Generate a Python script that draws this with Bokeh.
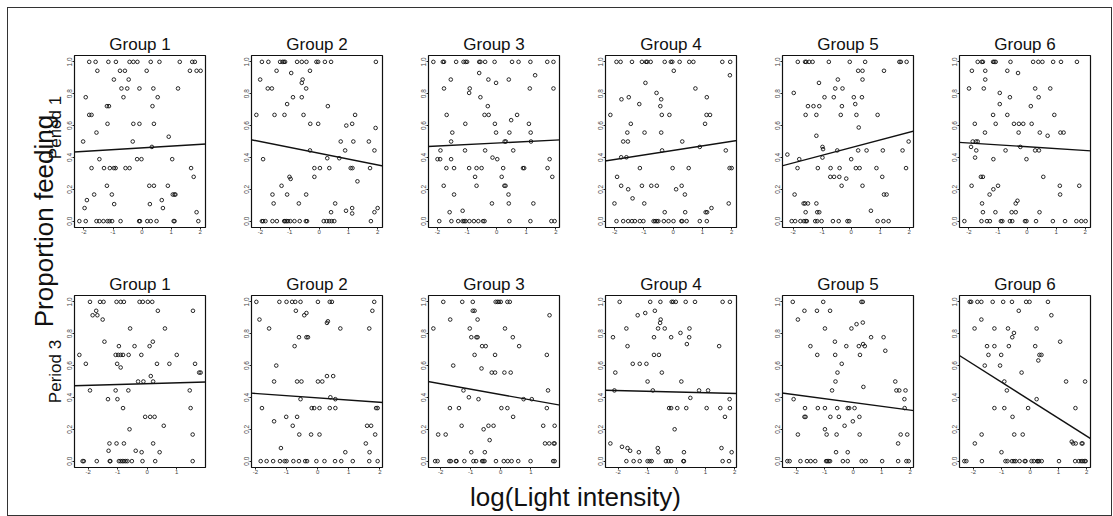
import math
from bokeh.plotting import figure
from bokeh.layouts import row, column
from bokeh.models import ColumnDataSource, Range1d, FixedTicker, PrintfTickFormatter, Slope, Label
from bokeh.embed import file_html
from bokeh.resources import INLINE

FONT = "Liberation Sans"

GROUPS = ["Group 1", "Group 2", "Group 3", "Group 4", "Group 5", "Group 6"]
PERIODS = ["Period 1", "Period 3"]
Y_LABEL = "Proportion feeding"
X_LABEL = "log(Light intensity)"
X_TICKS = [-2, -1, 0, 1, 2]
Y_TICKS = [0.0, 0.2, 0.4, 0.6, 0.8, 1.0]

# (log light intensity, proportion feeding)
P1_G1 = [(-1.82,1),(-1.60,1),(-1.16,1),(-0.90,1),(-0.43,1),(-0.30,1),(-0.16,1),(0.30,1),(0.60,1),(1.30,1),(1.73,1),(1.82,1),
         (-1.54,0.944),(-0.76,0.944),(-0.59,0.944),(0.16,0.944),(1.65,0.944),(1.88,0.944),(2.02,0.944),
         (-0.97,0.889),(-0.46,0.889),(-0.71,0.833),(-0.51,0.833),(-0.09,0.833),(0.39,0.833),(1.24,0.833),
         (-1.94,0.778),(-0.64,0.778),(0.54,0.778),(-1.21,0.722),(-1.14,0.722),(0.36,0.722),
         (-1.82,0.667),(-1.74,0.667),(-1.19,0.611),(-0.30,0.611),(-0.09,0.611),(0.41,0.611),
         (-1.57,0.556),(0.92,0.53),(-2.03,0.5),(-0.32,0.5),(0.34,0.466),
         (-1.47,0.389),(-0.17,0.389),(-0.02,0.389),(1.04,0.389),
         (-1.74,0.333),(-1.31,0.333),(-1.11,0.333),(-0.97,0.333),(-0.91,0.333),(-0.57,0.333),(-0.43,0.333),(1.69,0.333),
         (1.78,0.278),(-1.21,0.222),(0.25,0.222),(0.41,0.222),(0.89,0.222),
         (-1.65,0.167),(-1.04,0.167),(1.06,0.167),(1.12,0.167),(1.15,0.167),
         (-1.90,0.132),(0.68,0.132),(-0.96,0.107),(0.27,0.107),(-1.98,0.082),(0.72,0.082),(1.88,0.056),
         (-2.16,0),(-1.94,0),(-1.57,0),(-1.47,0),(-1.33,0),(-1.19,0),(-1.12,0),(-1.03,0),(-0.74,0),(-0.10,0),
         (-0.07,0),(0.18,0),(0.30,0),(0.50,0),(1.09,0),(1.12,0),(1.94,0)]
P1_G2 = [(-1.95,1),(-1.73,1),(-1.33,1),(-1.25,1),(-1.20,1),(-1.16,1),(-0.75,1),(-0.59,1),(-0.43,1),(-0.09,1),(-0.03,1),(0.20,1),(0.41,1),(1.94,1),
         (-1.45,0.944),(-0.31,0.944),(-0.95,0.93),(-2.01,0.889),(-0.56,0.889),(-0.59,0.868),
         (-1.75,0.833),(-1.61,0.833),(-0.44,0.833),(-0.89,0.778),(-0.59,0.778),(-1.09,0.735),(0.30,0.722),
         (-2.14,0.667),(-1.52,0.667),(-1.18,0.667),(-0.53,0.667),(1.23,0.667),
         (-0.30,0.611),(-0.03,0.611),(1.13,0.611),(0.93,0.6),(1.93,0.585),
         (0.74,0.5),(1.17,0.5),(1.70,0.5),(-0.31,0.444),(0.89,0.444),(1.89,0.444),
         (0.28,0.395),(0.69,0.395),(-1.91,0.389),
         (-0.16,0.333),(0.03,0.333),(0.35,0.333),(1.08,0.333),(1.14,0.333),(1.74,0.333),
         (-0.16,0.278),(-1.01,0.278),(-0.97,0.265),(1.31,0.25),(-1.28,0.222),
         (-1.59,0.167),(-1.09,0.167),(-0.44,0.167),(-1.55,0.111),(-0.69,0.111),(0.55,0.111),
         (0.92,0.065),(0.41,0.056),(1.89,0.056),(1.13,0.082),(2.0,0.082),(1.13,0.048),
         (-1.95,0),(-1.91,0),(-1.83,0),(-1.59,0),(-1.44,0),(-1.19,0),(-1.16,0),(-1.11,0),(-1.06,0),(-0.98,0),
         (-0.84,0),(-0.66,0),(-0.45,0),(-0.41,0),(0.16,0),(0.26,0),(0.35,0),(0.43,0),(0.52,0),(1.77,0)]
P1_G3 = [(-2.14,1),(-1.82,1),(-1.78,1),(-1.37,1),(-1.12,1),(-1.05,1),(-1.0,1),(-0.59,1),(-0.55,1),(-0.39,1),(-0.07,1),(0.52,1),(0.74,1),(1.14,1),(1.71,1),(1.92,1),
         (-0.59,0.93),(1.30,0.916),(-1.55,0.889),(-0.28,0.889),(0.41,0.889),(-0.02,0.868),
         (-1.78,0.833),(-0.91,0.833),(1.12,0.833),(1.92,0.833),(-0.93,0.805),(-0.55,0.778),(-0.30,0.722),
         (-1.69,0.667),(-0.41,0.667),(-0.27,0.667),(0.69,0.667),(0.49,0.634),
         (-1.06,0.611),(-0.06,0.611),(1.09,0.611),(-1.50,0.556),(-0.02,0.556),(0.43,0.556),(1.15,0.556),
         (-1.54,0.5),(0.27,0.5),(0.31,0.5),(1.16,0.5),(-1.90,0.444),(-1.07,0.444),(-0.39,0.444),(0.56,0.444),
         (-0.14,0.399),(-2.0,0.389),(-1.91,0.389),(-1.54,0.389),(0.02,0.389),(1.79,0.389),
         (-1.70,0.333),(-1.44,0.333),(-0.93,0.333),(-0.68,0.333),(-0.51,0.333),(0.22,0.333),(0.89,0.333),(0.93,0.333),(1.72,0.333),
         (-0.73,0.278),(0.17,0.278),(1.88,0.278),(-1.79,0.222),(-0.68,0.222),(0.26,0.222),(0.30,0.222),
         (-1.44,0.167),(0.40,0.167),(-0.16,0.111),(0.41,0.111),(1.24,0.111),(-1.15,0.065),(-1.59,0.056),
         (-1.94,0),(-1.53,0),(-1.30,0),(-1.15,0),(-1.10,0),(-1.05,0),(-0.92,0),(-0.77,0),(-0.62,0),(-0.46,0),
         (-0.41,0),(0.43,0),(1.14,0),(1.85,0),(1.96,0)]
P1_G4 = [(-1.94,1),(-1.80,1),(-1.41,1),(-1.07,1),(-0.93,1),(-0.89,1),(-0.77,1),(-0.29,1),(-0.08,1),(-0.03,1),(0.22,1),(0.55,1),(0.69,1),(1.68,1),(1.95,1),
         (0.02,0.944),(1.94,0.916),(-0.95,0.868),(0.76,0.833),(-0.57,0.805),(-1.52,0.778),(1.15,0.778),
         (-1.77,0.765),(-0.41,0.765),(-1.16,0.735),(-0.44,0.722),
         (-2.15,0.667),(-0.39,0.667),(-0.13,0.667),(1.14,0.667),(1.26,0.667),(-1.45,0.611),(1.09,0.611),
         (-1.57,0.556),(-0.98,0.556),(-0.41,0.556),(-1.71,0.5),(-1.55,0.5),(0.31,0.5),(0.91,0.466),
         (-0.38,0.444),(1.80,0.444),(-1.78,0.401),(-1.60,0.401),
         (-1.14,0.333),(-0.02,0.333),(0.53,0.333),(1.93,0.333),(2.0,0.333),(-1.92,0.278),
         (-1.78,0.222),(-1.07,0.222),(-0.75,0.222),(-0.56,0.222),(0.29,0.222),(-1.54,0.2),(0.10,0.2),
         (0.40,0.167),(-1.39,0.143),(-2.01,0.111),(-0.99,0.111),(1.90,0.111),(1.31,0.082),
         (-0.29,0.056),(0.41,0.056),(1.11,0.056),(1.16,0.056),
         (-1.94,0),(-1.71,0),(-1.54,0),(-1.41,0),(-1.31,0),(-1.14,0),(-1.02,0),(-0.67,0),(-0.62,0),(-0.56,0),
         (-0.51,0),(-0.32,0),(-0.16,0),(0.01,0),(0.28,0),(0.31,0),(0.46,0),(0.91,0),(1.15,0)]
P1_G5 = [(-1.84,1),(-1.59,1),(-1.55,1),(-1.45,1),(-1.33,1),(-0.77,1),(-0.05,1),(0.48,1),(1.66,1),(1.71,1),(1.91,1),
         (0.24,0.944),(0.39,0.944),(1.13,0.944),(-0.46,0.889),(0.39,0.889),(-1.11,0.868),
         (-0.55,0.833),(-0.30,0.833),(-1.98,0.805),(-0.92,0.778),(-0.60,0.778),(0.09,0.778),(0.37,0.778),
         (0.14,0.735),(-1.49,0.722),(-1.30,0.722),(-1.10,0.722),(-0.32,0.722),
         (-1.57,0.667),(-1.20,0.667),(-0.36,0.667),(0.18,0.667),(0.91,0.667),(0.26,0.588),(-1.20,0.536),
         (1.98,0.5),(-0.99,0.466),(-0.97,0.452),(-0.48,0.444),(0.24,0.444),(0.53,0.444),(1.09,0.444),(1.77,0.444),
         (-2.20,0.418),(-0.99,0.399),(-1.79,0.389),(0.0,0.389),
         (-1.85,0.333),(-1.15,0.333),(-0.71,0.333),(-0.40,0.333),(0.16,0.333),(0.29,0.333),(0.87,0.333),(1.89,0.333),
         (-0.72,0.278),(-0.59,0.278),(-0.41,0.278),(1.07,0.278),(-0.17,0.267),(-0.33,0.222),(0.39,0.222),
         (-1.95,0.167),(1.13,0.167),(1.22,0.167),(-1.64,0.111),(-1.59,0.111),(-1.49,0.111),(-1.20,0.111),
         (0.68,0.065),(-1.57,0.056),(-1.17,0.056),(-1.10,0.056),
         (-2.05,0),(-1.93,0),(-1.75,0),(-1.63,0),(-1.57,0),(-1.53,0),(-1.24,0),(-1.17,0),(-1.02,0),(-0.63,0),
         (-0.43,0),(-0.13,0),(-0.07,0),(0.91,0),(1.11,0),(1.29,0)]
P1_G6 = [(-1.70,1),(-1.56,1),(-1.52,1),(-1.17,1),(-1.13,1),(-1.08,1),(-0.57,1),(0.21,1),(0.39,1),(0.53,1),(0.90,1),(1.17,1),(1.72,1),
         (-1.90,0.944),(-1.44,0.944),(-0.68,0.944),(-0.31,0.93),(-1.44,0.889),
         (-2.0,0.833),(-1.49,0.833),(0.28,0.833),(0.80,0.833),(-0.94,0.805),(-0.59,0.778),(0.40,0.778),
         (-0.94,0.735),(0.13,0.722),(-1.17,0.667),(-0.68,0.667),(0.94,0.667),
         (-1.80,0.611),(-1.08,0.611),(-0.45,0.611),(-0.28,0.611),(-0.13,0.611),(0.16,0.611),
         (-1.45,0.556),(-0.29,0.556),(0.44,0.556),(1.15,0.556),(1.26,0.556),(0.71,0.536),
         (-1.87,0.5),(-1.76,0.5),(-1.70,0.5),(-1.93,0.466),(-0.23,0.466),
         (-1.75,0.444),(-0.74,0.444),(0.28,0.444),(0.41,0.444),(-1.79,0.399),(-1.16,0.389),(-0.02,0.389),
         (-1.59,0.278),(-1.52,0.278),(0.56,0.278),(-1.91,0.222),(-1.0,0.222),(1.13,0.222),(1.80,0.222),
         (-1.16,0.2),(-1.29,0.167),(1.14,0.167),(-1.55,0.111),(-0.33,0.128),(-0.39,0.111),
         (-1.52,0.056),(-1.09,0.056),(-0.53,0.056),(-0.39,0.056),(0.43,0.056),
         (-2.16,0),(-1.57,0),(-1.38,0),(-1.28,0),(-0.90,0),(-0.85,0),(-0.59,0),(-0.51,0),(-0.07,0),(-0.02,0),
         (0.31,0),(0.89,0),(1.31,0),(1.70,0),(1.87,0),(2.02,0)]
P3_G1 = [(-1.94,1),(-1.60,1),(-1.48,1),(-1.04,1),(-0.90,1),(-0.79,1),(-0.26,1),(-0.15,1),(0.02,1),(0.17,1),
         (-1.73,0.944),(0.36,0.944),(1.55,0.944),(-1.85,0.916),(-1.69,0.916),(-1.51,0.889),
         (-0.58,0.833),(0.60,0.833),(-1.45,0.75),(0.19,0.75),(-0.96,0.722),(-0.43,0.722),(0.08,0.722),
         (-2.30,0.667),(-1.07,0.667),(-0.98,0.667),(-0.90,0.667),(-0.82,0.667),(-0.63,0.667),(-0.20,0.667),(1.0,0.667),
         (-2.08,0.611),(-1.02,0.611),(0.33,0.611),(0.75,0.611),(1.62,0.611),(-0.90,0.588),
         (1.76,0.556),(1.81,0.556),(0.12,0.534),(-0.31,0.5),(-0.13,0.5),(0.20,0.5),
         (-1.94,0.444),(-1.07,0.444),(-0.64,0.444),(1.44,0.444),(-1.33,0.389),(-1.01,0.389),
         (-0.82,0.333),(1.47,0.333),(-0.07,0.278),(0.10,0.278),(0.25,0.278),(0.56,0.222),(-0.60,0.2),(1.54,0.167),
         (-1.28,0.111),(-1.04,0.111),(-0.79,0.111),(0.20,0.111),(-1.31,0.065),(-0.39,0.065),(-0.19,0.056),(0.42,0.056),
         (-2.19,0),(-2.15,0),(-1.71,0),(-1.27,0),(-1.25,0),(-0.96,0),(-0.90,0),(-0.84,0),(-0.79,0),(-0.73,0),
         (-0.67,0),(-0.52,0),(-0.16,0),(0.27,0),(1.54,0)]
P3_G2 = [(-1.97,1),(-1.23,1),(-1.0,1),(-0.82,1),(-0.72,1),(-0.55,1),(0.01,1),(0.39,1),(0.46,1),(1.82,1),
         (-0.70,0.944),(1.76,0.944),(-0.36,0.93),(-0.43,0.916),(-1.87,0.889),(0.33,0.878),(0.30,0.868),
         (-1.56,0.833),(0.73,0.833),(1.66,0.833),(-0.60,0.778),(-0.36,0.778),(-0.31,0.778),(-0.74,0.722),
         (-1.33,0.6),(0.30,0.534),(0.50,0.534),(-1.40,0.5),(-0.66,0.5),(-0.52,0.5),(0.01,0.5),(0.15,0.5),
         (0.41,0.401),(-0.55,0.389),(0.57,0.389),
         (-1.79,0.333),(-0.19,0.333),(-0.11,0.333),(0.06,0.333),(0.39,0.333),(0.57,0.333),(1.88,0.333),(1.93,0.333),
         (-1.01,0.278),(-0.66,0.278),(-1.40,0.25),(-0.80,0.222),(1.59,0.222),(1.72,0.222),
         (-0.59,0.167),(-0.21,0.167),(0.06,0.167),(1.85,0.167),(1.55,0.111),(-1.18,0.082),(0.89,0.056),(1.67,0.056),
         (-1.83,0),(-1.64,0),(-1.43,0),(-1.21,0),(-1.06,0),(-1.0,0),(-0.78,0),(-0.60,0),(-0.40,0),(-0.34,0),
         (-0.04,0),(0.22,0),(0.56,0),(0.76,0),(1.13,0),(1.66,0),(1.93,0)]
P3_G3 = [(-1.91,1),(-1.28,1),(-0.93,1),(-0.17,1),(-0.11,1),(-0.06,1),(0.0,1),(0.22,1),(0.30,1),
         (-0.93,0.944),(-0.87,0.944),(1.62,0.916),(-1.68,0.889),(-0.77,0.889),
         (-2.24,0.833),(-1.03,0.833),(0.14,0.833),(-0.98,0.778),(-0.81,0.778),(-0.77,0.778),(0.40,0.778),
         (-0.62,0.722),(-0.50,0.722),(0.61,0.722),(-0.87,0.667),(-0.19,0.667),(1.53,0.667),
         (-1.58,0.6),(-0.64,0.582),(-0.30,0.556),(-0.19,0.556),(0.12,0.556),(0.33,0.556),
         (-1.24,0.444),(1.57,0.444),(-1.06,0.401),(-0.74,0.389),(0.76,0.389),(1.03,0.389),
         (-1.69,0.333),(-1.39,0.333),(0.02,0.333),(0.22,0.333),(1.53,0.333),(0.41,0.278),
         (-1.30,0.222),(-0.41,0.222),(-0.24,0.222),(1.41,0.222),(1.79,0.222),(-0.57,0.2),
         (-2.08,0.167),(-1.83,0.167),(-0.37,0.132),(1.47,0.111),(1.61,0.111),(1.76,0.111),(1.79,0.111),
         (-0.98,0.056),(-0.53,0.056),
         (-2.18,0),(-2.10,0),(-1.71,0),(-1.66,0),(-1.49,0),(-1.47,0),(-1.21,0),(-0.91,0),(-0.82,0),(-0.62,0),
         (-0.58,0),(-0.54,0),(-0.16,0),(0.10,0),(0.23,0),(0.36,0),(0.58,0),(0.99,0),(1.74,0),(1.79,0)]
P3_G4 = [(-1.95,1),(-0.90,1),(-0.55,1),(-0.16,1),(-0.11,1),(-0.02,1),(0.32,1),(0.64,1),(1.59,1),(1.84,1),
         (-1.33,0.916),(-1.07,0.93),(-0.74,0.944),(-0.54,0.889),(-0.56,0.868),
         (-1.72,0.833),(-0.63,0.833),(-0.40,0.833),(0.45,0.833),(0.14,0.805),
         (-2.18,0.778),(-0.77,0.778),(-0.18,0.778),(0.44,0.778),(0.36,0.735),(-1.68,0.722),(1.47,0.722),
         (-0.77,0.667),(-0.60,0.667),(-1.50,0.611),(-1.26,0.611),(-1.03,0.611),(-2.10,0.556),(-0.50,0.556),
         (-0.99,0.5),(0.17,0.5),(-2.13,0.444),(-0.81,0.444),(0.78,0.444),(1.09,0.444),(0.48,0.397),(1.83,0.389),
         (-0.25,0.333),(-0.18,0.333),(0.03,0.333),(0.34,0.333),(1.04,0.333),(1.51,0.333),(1.84,0.333),
         (1.67,0.278),(-0.06,0.2),(-2.27,0.111),(-1.87,0.09),(-1.68,0.082),(-0.64,0.082),(1.55,0.082),(-1.59,0.065),
         (-1.29,0.056),(-0.62,0.056),(0.26,0.056),(1.90,0.056),
         (-1.72,0),(-1.47,0),(-1.26,0),(-0.99,0),(-0.92,0),(-0.85,0),(-0.36,0),(-0.27,0),(-0.18,0),(0.24,0),
         (0.26,0),(1.59,0),(1.81,0)]
P3_G5 = [(-2.12,1),(-1.05,1),(0.29,1),(0.34,1),(-1.71,0.944),(-1.27,0.944),(-0.81,0.944),(-1.94,0.889),
         (0.12,0.86),(0.34,0.87),(-0.99,0.833),(-0.06,0.833),(0.63,0.778),(1.07,0.778),(-0.64,0.75),(0.35,0.735),
         (-1.50,0.722),(-0.24,0.722),(0.20,0.722),(0.41,0.722),(1.13,0.693),(-1.26,0.667),(-0.63,0.667),(0.24,0.667),
         (-0.40,0.611),(-0.55,0.556),(-0.62,0.5),(1.48,0.5),(0.36,0.466),
         (-0.74,0.444),(1.52,0.444),(1.62,0.444),(1.84,0.444),(-2.09,0.389),(1.80,0.389),
         (-1.69,0.333),(-1.24,0.333),(-0.99,0.333),(-0.56,0.333),(-0.19,0.333),(-0.14,0.333),(0.05,0.333),(1.81,0.333),
         (-1.71,0.278),(-1.67,0.278),(-0.80,0.278),(-0.50,0.278),(0.22,0.278),(-0.01,0.25),(-0.30,0.222),(-0.99,0.2),
         (-1.94,0.167),(-0.93,0.167),(-0.58,0.167),(0.23,0.167),(1.67,0.167),(1.90,0.167),(1.58,0.111),
         (-0.60,0.056),(-0.19,0.056),
         (-2.31,0),(-2.23,0),(-1.85,0),(-1.62,0),(-1.49,0),(-1.33,0),(-0.95,0),(-0.91,0),(-0.86,0),(-0.81,0),
         (-0.36,0),(-0.19,0),(0.30,0),(0.44,0),(1.02,0),(1.58,0),(1.87,0),(1.95,0)]
P3_G6 = [(-2.13,1),(-2.08,1),(-1.86,1),(-1.72,1),(-1.32,1),(-0.95,1),(-0.64,1),(-0.14,1),(-0.02,1),(0.63,1),
         (-0.40,0.944),(0.75,0.916),(-1.72,0.889),(-1.96,0.833),(-1.26,0.833),(-0.78,0.833),(0.23,0.833),
         (-0.57,0.805),(-0.63,0.778),(1.06,0.75),(-1.52,0.722),(-1.26,0.722),(-0.75,0.722),(0.18,0.722),
         (-1.47,0.667),(-1.02,0.667),(0.33,0.667),(0.40,0.667),(0.29,0.632),(-1.60,0.6),(-1.06,0.6),(-0.30,0.556),
         (-0.91,0.5),(1.27,0.5),(1.94,0.5),(-0.82,0.444),(0.23,0.389),
         (-1.26,0.333),(-0.91,0.333),(-0.07,0.333),(1.60,0.333),(-0.62,0.278),
         (-1.71,0.167),(-0.56,0.167),(-0.26,0.167),(-1.95,0.111),(1.47,0.122),(1.52,0.111),(1.61,0.111),(1.82,0.111),(1.85,0.111),
         (-1.01,0.056),
         (-2.32,0),(-2.25,0),(-1.70,0),(-0.87,0),(-0.80,0),(-0.64,0),(-0.57,0),(-0.51,0),(-0.37,0),(-0.19,0),
         (-0.16,0),(0.05,0),(0.13,0),(0.25,0),(0.28,0),(0.32,0),(0.41,0),(1.02,0),(1.59,0),(1.72,0),(1.80,0),
         (1.86,0),(1.92,0),(1.96,0)]

PERIOD1_DATA = [P1_G1, P1_G2, P1_G3, P1_G4, P1_G5, P1_G6]
PERIOD3_DATA = [P3_G1, P3_G2, P3_G3, P3_G4, P3_G5, P3_G6]

# fitted lines (intercept at x = 0, slope)
FIT_INTERCEPT_P1 = [0.460, 0.426, 0.490, 0.444, 0.462, 0.467]
FIT_SLOPE_P1 = [0.0112, -0.0368, 0.0094, 0.0283, 0.0483, -0.0118]
FIT_INTERCEPT_P3 = [0.486, 0.397, 0.418, 0.434, 0.368, 0.382]
FIT_SLOPE_P3 = [0.0053, -0.0139, -0.0337, -0.0046, -0.0239, -0.1128]

# ---------------- layout constants ----------------
LEFT_W = 56
PANEL_W = 177
LAST_W = 162
B_LEFT = 10
FRAME_W = 131
ROW1_H = 240
ROW2_H = 231
BOTTOM_H = 36
TOTAL_W = LEFT_W + 5 * PANEL_W + LAST_W


def make_panel(points, icpt, slope, title, width, b_right, height, b_top, b_bottom):
    xs = [pt[0] for pt in points]
    ys = [pt[1] for pt in points]
    lo, hi = min(xs), max(xs)
    pad = 0.04 * (hi - lo)
    p = figure(width=width, height=height, output_backend="svg", toolbar_location=None,
               x_range=Range1d(lo - pad, hi + pad), y_range=Range1d(-0.04, 1.04),
               min_border_left=B_LEFT, min_border_right=b_right,
               min_border_top=b_top, min_border_bottom=b_bottom, title=title)
    p.title.text_font = FONT
    p.title.text_font_size = "17px"
    p.title.text_font_style = "normal"
    p.title.text_color = "#111111"
    p.title.align = "center"
    p.title.standoff = 4
    p.grid.visible = False
    p.outline_line_color = "#111111"
    p.outline_line_width = 1.2
    p.background_fill_color = "white"
    p.border_fill_color = "white"

    for ax in (p.xaxis[0], p.yaxis[0]):
        ax.axis_line_color = None
        ax.major_tick_out = 2
        ax.major_tick_in = 0
        ax.minor_tick_line_color = None
        ax.major_tick_line_color = "#222222"
        ax.major_label_text_font = FONT
        ax.major_label_text_color = "#444444"
        ax.major_label_standoff = 0
    p.xaxis[0].ticker = FixedTicker(ticks=X_TICKS)
    p.xaxis[0].formatter = PrintfTickFormatter(format="%d")
    p.xaxis[0].major_label_text_font_size = "6px"
    p.yaxis[0].ticker = FixedTicker(ticks=Y_TICKS)
    p.yaxis[0].formatter = PrintfTickFormatter(format="%.1f")
    p.yaxis[0].major_label_text_font_size = "6.5px"
    p.yaxis[0].major_label_orientation = "vertical"

    src = ColumnDataSource(data=dict(x=xs, y=ys))
    p.scatter(x="x", y="y", source=src, marker="circle", size=3.6,
              fill_color=None, line_color="#111111", line_width=0.9)
    p.add_layout(Slope(gradient=slope, y_intercept=icpt, line_color="#111111", line_width=1.4))
    return p


def make_row(datasets, icpts, slopes, height, b_top, b_bottom):
    figs = []
    for i, pts in enumerate(datasets):
        last = i == len(datasets) - 1
        w = LAST_W if last else PANEL_W
        b_right = w - B_LEFT - FRAME_W
        figs.append(make_panel(pts, icpts[i], slopes[i], GROUPS[i], w, b_right, height, b_top, b_bottom))
    return row(*figs, spacing=0)


row1 = make_row(PERIOD1_DATA, FIT_INTERCEPT_P1, FIT_SLOPE_P1, ROW1_H, 47, 21)
row2 = make_row(PERIOD3_DATA, FIT_INTERCEPT_P3, FIT_SLOPE_P3, ROW2_H, 47, 12)

# left label strip (its coordinates are pixels, origin at the strip's bottom-left)
LH = ROW1_H + ROW2_H
left = figure(width=LEFT_W, height=LH, output_backend="svg", toolbar_location=None,
              x_range=Range1d(0, LEFT_W), y_range=Range1d(0, LH),
              x_axis_location=None, y_axis_location=None, min_border=0, title=None)
left.grid.visible = False
left.outline_line_color = None
left.add_layout(Label(x=35, y=LH + 8 - 220.5, text=Y_LABEL, angle=math.pi / 2,
                      text_font=FONT, text_font_size="26px", text_color="#111111",
                      text_align="center", text_baseline="middle"))
left.add_layout(Label(x=47, y=LH + 8 - 127, text=PERIODS[0], angle=math.pi / 2,
                      text_font=FONT, text_font_size="17px", text_color="#111111",
                      text_align="center", text_baseline="middle"))
left.add_layout(Label(x=47, y=LH + 8 - 371, text=PERIODS[1], angle=math.pi / 2,
                      text_font=FONT, text_font_size="17px", text_color="#111111",
                      text_align="center", text_baseline="middle"))

bottom = figure(width=TOTAL_W, height=BOTTOM_H, output_backend="svg", toolbar_location=None,
                x_range=Range1d(0, TOTAL_W), y_range=Range1d(0, BOTTOM_H),
                x_axis_location=None, y_axis_location=None, min_border=0, title=None)
bottom.grid.visible = False
bottom.outline_line_color = None
bottom.add_layout(Label(x=567, y=19, text=X_LABEL, text_font=FONT, text_font_size="26px",
                        text_color="#111111", text_align="center", text_baseline="middle"))

upper = row(left, column(row1, row2, spacing=0), spacing=0)
layout = column(upper, bottom, spacing=0, margin=(8, 0, 0, 8),
                styles={"outline": "1px solid #333333"})

open("out.html", "w").write(file_html(layout, INLINE))
